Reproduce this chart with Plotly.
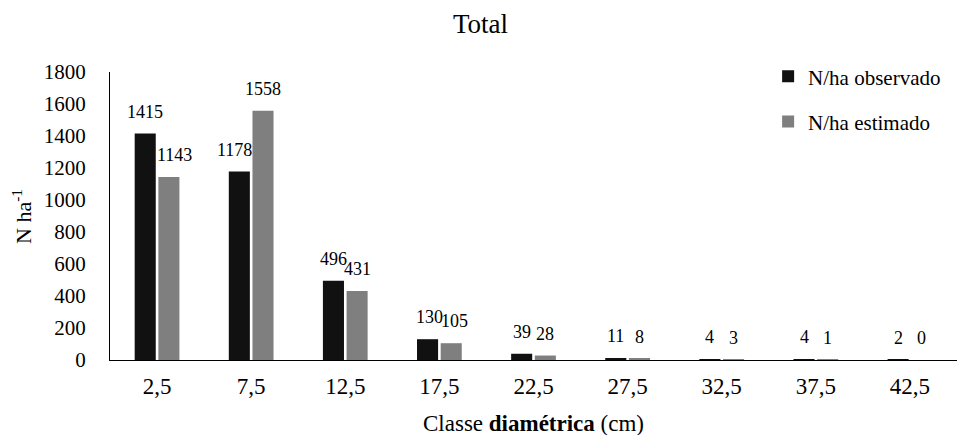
import plotly.graph_objects as go

# Diameter classes (cm) and stem density per hectare
classes = ["2,5", "7,5", "12,5", "17,5", "22,5", "27,5", "32,5", "37,5", "42,5"]
observado = [1415, 1178, 496, 130, 39, 11, 4, 4, 2]
estimado = [1143, 1558, 431, 105, 28, 8, 3, 1, 0]

y_ticks = [0, 200, 400, 600, 800, 1000, 1200, 1400, 1600, 1800]

FONT = "Liberation Serif"
BAR_GAP = 0.497
GROUP_GAP = 0.11
slot = (1 - BAR_GAP) / 2          # width of one bar slot in category units
offset = slot / 2                 # centre of each bar relative to category centre

# small horizontal nudges (px) so neighbouring labels don't collide
label_nudge = {(0, 1): 6, (1, 0): -5, (3, 0): 2, (3, 1): 3}

fig = go.Figure()
fig.add_trace(go.Bar(
    x=classes, y=observado, name="N/ha observado",
    marker=dict(color="#111111", line=dict(width=0)),
    legendgroup="a",
))
fig.add_trace(go.Bar(
    x=classes, y=estimado, name="N/ha estimado",
    marker=dict(color="#7f7f7f", line=dict(width=0)),
    legendgroup="b",
))

# value labels above each bar
annotations = []
for i, (o, e) in enumerate(zip(observado, estimado)):
    for k, (xv, val) in enumerate(((i - offset, o), (i + offset, e))):
        annotations.append(dict(
            x=xv, y=val, xref="x", yref="y", text=str(val),
            showarrow=False, yshift=22, xshift=label_nudge.get((i, k), 0),
            yanchor="middle",
            font=dict(family=FONT, size=18, color="#000000"),
        ))

annotations.append(dict(
    x=0.5, y=-0.219, xref="paper", yref="paper", xanchor="center", yanchor="middle",
    text="Classe <b>diamétrica</b> (cm)", showarrow=False,
    font=dict(family=FONT, size=23, color="#000000"),
))
annotations.append(dict(
    x=-0.104, y=0.5, xref="paper", yref="paper", xanchor="center", yanchor="middle",
    text="N ha<sup>-1</sup>", showarrow=False, textangle=-90,
    font=dict(family=FONT, size=22, color="#000000"),
))

fig.update_layout(
    width=961, height=435,
    margin=dict(l=110, r=4, t=72, b=75),
    paper_bgcolor="white", plot_bgcolor="white",
    barmode="group", bargap=BAR_GAP, bargroupgap=GROUP_GAP,
    title=dict(text="Total", x=0.5, xref="container", y=0.945, yanchor="middle",
               font=dict(family=FONT, size=27, color="#000000")),
    font=dict(family=FONT, color="#000000"),
    showlegend=True,
    legend=dict(x=0.777, y=1.055, xanchor="left", yanchor="top",
                font=dict(family=FONT, size=21, color="#000000"),
                traceorder="grouped", tracegroupgap=15,
                bgcolor="rgba(0,0,0,0)"),
    xaxis=dict(
        type="category", showgrid=False, showline=True, linecolor="#000000", linewidth=1.3,
        ticks="outside", ticklen=5, tickcolor="rgba(0,0,0,0)",
        tickfont=dict(family=FONT, size=23, color="#000000"),
    ),
    yaxis=dict(
        range=[0, 1800], tickvals=y_ticks, showgrid=False, zeroline=False,
        showline=True, linecolor="#000000", linewidth=1.3,
        ticks="outside", ticklen=19, tickcolor="rgba(0,0,0,0)",
        tickfont=dict(family=FONT, size=21, color="#000000"),
    ),
    annotations=annotations,
)

fig.write_html("out.html")
